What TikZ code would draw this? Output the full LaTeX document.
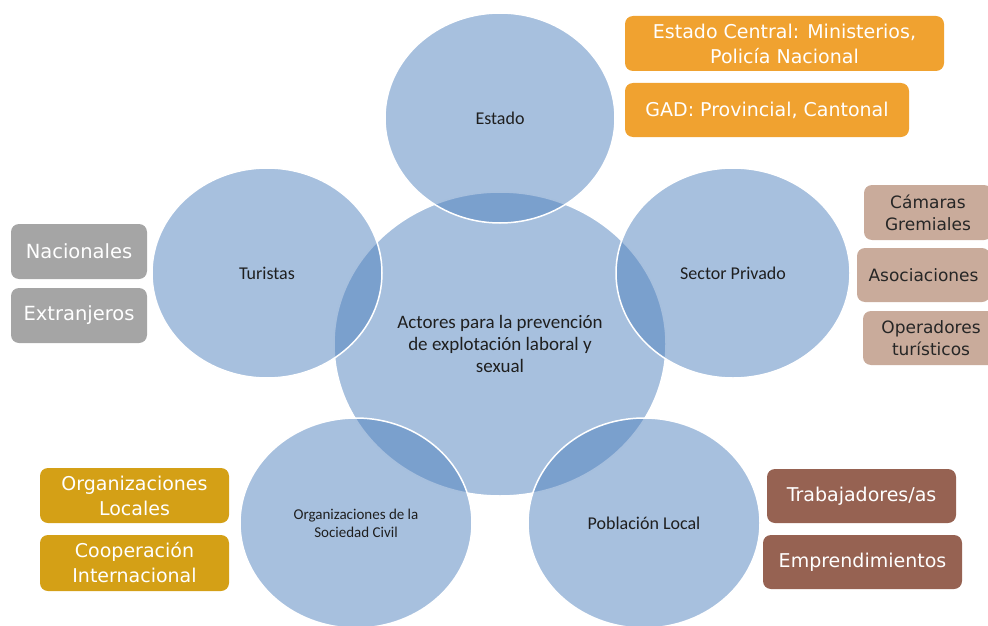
\documentclass[tikz,border=0pt]{standalone}
\usepackage{fontspec}
\setmainfont{Carlito}
\newfontfamily\cajafont{DejaVu Sans}
\usetikzlibrary{shapes.geometric}
\definecolor{azulactor}{RGB}{79,129,189}
\definecolor{naranja}{RGB}{240,162,48}
\definecolor{gris}{RGB}{165,165,165}
\definecolor{arena}{RGB}{201,171,155}
\definecolor{oro}{RGB}{212,160,22}
\definecolor{cafe}{RGB}{150,98,82}
\tikzset{actor/.style={ellipse, draw=white, line width=1.5pt, fill=azulactor, fill opacity=0.5, text opacity=1, inner sep=0pt, minimum width=232pt, minimum height=210pt, text=black!88, align=center, font=\fontsize{18}{21}\selectfont},
  caja/.style={rounded corners=8pt, inner sep=0pt, text=white, align=center, minimum height=55pt, font=\cajafont\fontsize{19}{25}\selectfont}}

\begin{document}
\begin{tikzpicture}[x=1pt,y=-1pt]
   \useasboundingbox (0,0) rectangle (988,626);
   \node[actor, minimum width=332pt, minimum height=304pt, font=\fontsize{19}{22}\selectfont] (centro) at (500,344) {Actores para la prevención\\ de explotación laboral y\\ sexual};
   \node[actor, minimum width=230pt] (estado) at (500,118) {Estado};
   \node[actor, minimum width=230pt] (turistas) at (267,273) {Turistas};
   \node[actor, minimum width=234pt] (privado) at (733,273) {Sector Privado};
   \node[actor, font=\fontsize{15}{18}\selectfont] (osc) at (356,523) {Organizaciones de la\\ Sociedad Civil};
   \node[actor] (poblacion) at (644,523) {Población Local};
   \node[caja, fill=naranja, minimum width=319pt] (central) at (784.5,43.5) {Estado Central: Ministerios,\\ Policía Nacional};
   \node[caja, fill=naranja, minimum width=284pt, minimum height=54pt] (gad) at (767,110) {GAD: Provincial, Cantonal};
   \node[caja, fill=gris, minimum width=136pt, font=\cajafont\fontsize{19.5}{25}\selectfont] (nacionales) at (79,251.5) {Nacionales};
   \node[caja, fill=gris, minimum width=136pt, font=\cajafont\fontsize{19.5}{25}\selectfont] (extranjeros) at (79,315.5) {Extranjeros};
   \node[caja, fill=arena, text=black!85, minimum width=128pt, font=\cajafont\fontsize{17}{22}\selectfont] (camaras) at (928,212.5) {Cámaras\\ Gremiales};
   \node[caja, fill=arena, text=black!85, minimum width=133pt, minimum height=54pt, font=\cajafont\fontsize{17}{22}\selectfont] (asociaciones) at (923.5,275) {Asociaciones};
   \node[caja, fill=arena, text=black!85, minimum width=136pt, minimum height=54pt, font=\cajafont\fontsize{17}{22}\selectfont] (operadores) at (931,338) {Operadores\\ turísticos};
   \node[caja, fill=oro, minimum width=189pt] (orglocales) at (134.5,495.5) {Organizaciones\\ Locales};
   \node[caja, fill=oro, minimum width=189pt, minimum height=56pt] (cooperacion) at (134.5,563) {Cooperación\\ Internacional};
   \node[caja, fill=cafe, minimum width=189pt, minimum height=54pt] (trabajadores) at (861.5,496) {Trabajadores/as};
   \node[caja, fill=cafe, minimum width=199pt, minimum height=54pt] (emprendimientos) at (862.5,562) {Emprendimientos};
\end{tikzpicture}
\end{document}
